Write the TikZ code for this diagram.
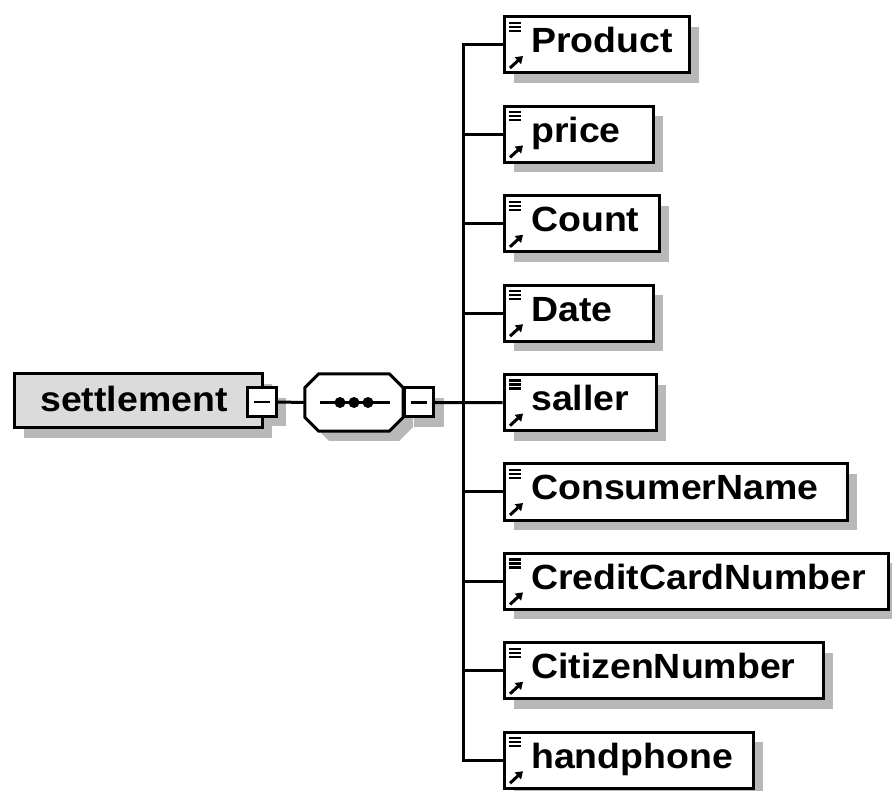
\documentclass[tikz,border=0pt]{standalone}
\usepackage{fontspec}
\setmainfont{Liberation Sans}[FakeStretch=1.07]
\usetikzlibrary{arrows.meta}
\definecolor{shadowc}{gray}{0.72}
\definecolor{sfillc}{gray}{0.86}
\begin{document}
\begin{tikzpicture}[x=1pt,y=-1pt,
  boxline/.style={draw=black,line width=3pt},
  elem/.style={boxline,fill=white,minimum height=56pt,inner sep=0pt},
  lbl/.style={inner sep=0pt,font=\fontsize{35}{40}\selectfont\bfseries},
  expbox/.style={boxline,fill=white,minimum width=29pt,minimum height=29pt,inner sep=0pt},
  conn/.style={draw=black,line width=3pt},
  icon/.style={draw=black,line width=2.2pt},
  arr/.style={draw=black,line width=3pt,-{Triangle[length=7pt,width=9pt]}}]
\useasboundingbox (0,0) rectangle (892,791);
% shadows of settlement and compositor
\fill[shadowc] (24,384) rectangle (272,438);
\fill[shadowc] (257,398) rectangle (286,426);
\fill[shadowc] (329,384) -- (399,384) -- (413,398) -- (413,427) -- (399,441) -- (329,441) -- (315,427) -- (315,398) -- cycle;
\fill[shadowc] (414,398) rectangle (444,427);
% settlement element
\node[boxline,fill=sfillc,minimum width=248pt,minimum height=54pt,inner sep=0pt] (settle) at (138,401) {};
\node[lbl,anchor=base west] (settlet) at (40,412) {settlement};
\node[expbox] (sexp) at (261.5,402) {};
\draw[icon,line width=2.6pt] ([xshift=-8pt]sexp.center) -- ([xshift=8pt]sexp.center);
% sequence compositor
\node[minimum width=98pt,minimum height=57pt,inner sep=0pt] (comp) at (354,402.5) {};
\draw[boxline,fill=white] ([xshift=14pt]comp.north west) -- ([xshift=-14pt]comp.north east)
  -- ([yshift=-14pt]comp.north east) -- ([yshift=14pt]comp.south east)
  -- ([xshift=-14pt]comp.south east) -- ([xshift=14pt]comp.south west)
  -- ([yshift=14pt]comp.south west) -- ([yshift=-14pt]comp.north west) -- cycle;
\node[expbox] (cexp) at (419,402.5) {};
\draw[icon,line width=2.6pt] ([xshift=-8pt]cexp.center) -- ([xshift=8pt]cexp.center);
\draw[conn] ([xshift=-34pt]comp.center) -- ([xshift=36pt]comp.center);
\foreach \dx in {-14,0,14} \fill ([xshift=\dx pt]comp.center) circle (5.5pt);
\draw[conn] (sexp.east) -- (comp.west);
\coordinate (bus) at (463,402);
% children
\foreach \n/\t/\r [count=\i from 0] in {prod/Product/689, price/price/653, count/Count/659, date/Date/653, saller/saller/656, cname/ConsumerName/847, ccn/CreditCardNumber/888, citizen/CitizenNumber/823, hand/handphone/753} {
  \pgfmathsetmacro\cy{45+89.4*\i}
  \pgfmathsetmacro\w{\r-504}
  \fill[shadowc] (514,\cy-18) rectangle (\r+10,\cy+38);
  \node[elem,minimum width=\w pt] (\n) at (504+\w/2,\cy) {};
  \node[lbl,anchor=base west] (\n t) at (531,\cy+8) {\t};
  \draw[icon] (509,\cy-22) -- (521,\cy-22);
  \draw[icon] (509,\cy-18) -- (521,\cy-18);
  \draw[icon] (509,\cy-14) -- (521,\cy-14);
  \draw[arr] (510,\cy+23) -- (523,\cy+11);
}
% connectors
\draw[conn] (cexp.east) -- (saller.west);
\draw[conn] (prod.west) -- (prod.west -| bus) -- (hand.west -| bus) -- (hand.west);
\foreach \n in {price,count,date,cname,ccn,citizen}
  \draw[conn] (\n.west -| bus) -- (\n.west);
\end{tikzpicture}
\end{document}
